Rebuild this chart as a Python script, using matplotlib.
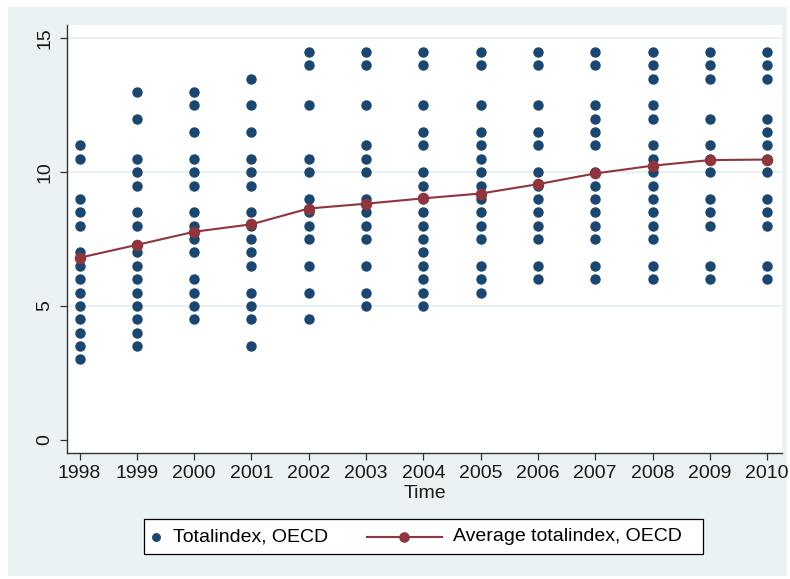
import matplotlib
matplotlib.use("Agg")
import matplotlib.pyplot as plt
from matplotlib.patches import Rectangle
from matplotlib.lines import Line2D
from matplotlib.offsetbox import AnchoredOffsetbox, DrawingArea, HPacker, TextArea

plt.rcParams['font.family'] = ['Liberation Sans', 'DejaVu Sans']

years = [1998, 1999, 2000, 2001, 2002, 2003, 2004, 2005, 2006, 2007, 2008, 2009, 2010]

# distinct country scores per year
idx_1998 = [11, 10.5, 9, 8.5, 8, 7, 6.5, 6, 5.5, 5, 4.5, 4, 3.5, 3]
idx_1999 = [13, 12, 10.5, 10, 9.5, 8.5, 8, 7, 6.5, 6, 5.5, 5, 4.5, 4, 3.5]
idx_2000 = [13, 12.5, 11.5, 10.5, 10, 9.5, 8.5, 8, 7.5, 7, 6, 5.5, 5, 4.5]
idx_2001 = [13.5, 12.5, 11.5, 10.5, 10, 9.5, 8.5, 8, 7.5, 7, 6.5, 5.5, 5, 4.5, 3.5]
idx_2002 = [14.5, 14, 12.5, 10.5, 10, 9, 8.5, 8, 7.5, 6.5, 5.5, 4.5]
idx_2003 = [14.5, 14, 12.5, 11, 10.5, 10, 9, 8.5, 8, 7.5, 6.5, 5.5, 5]
idx_2004 = [14.5, 14, 12.5, 11.5, 11, 10, 9.5, 9, 8.5, 8, 7.5, 7, 6.5, 6, 5.5, 5]
idx_2005 = [14.5, 14, 12.5, 11.5, 11, 10.5, 10, 9.5, 9, 8.5, 8, 7.5, 6.5, 6, 5.5]
idx_2006 = [14.5, 14, 12.5, 11.5, 11, 10, 9.5, 9, 8.5, 8, 7.5, 6.5, 6]
idx_2007 = [14.5, 14, 12.5, 12, 11.5, 11, 10, 9.5, 9, 8.5, 8, 7.5, 6.5, 6]
idx_2008 = [14.5, 14, 13.5, 12.5, 12, 11, 10.5, 10, 9.5, 9, 8.5, 8, 7.5, 6.5, 6]
idx_2009 = [14.5, 14, 13.5, 12, 11, 10.5, 10, 9, 8.5, 8, 6.5, 6]
idx_2010 = [14.5, 14, 13.5, 12, 11.5, 11, 10.5, 10, 9, 8.5, 8, 6.5, 6]

avg_index = [6.80, 7.28, 7.77, 8.05, 8.64, 8.82, 9.02, 9.20, 9.55, 9.95, 10.24, 10.45, 10.47]

yearly = [idx_1998, idx_1999, idx_2000, idx_2001, idx_2002, idx_2003, idx_2004,
          idx_2005, idx_2006, idx_2007, idx_2008, idx_2009, idx_2010]

navy = '#1a476f'
maroon = '#90353b'
bg = '#eaf2f3'
PX = 0.72  # points per pixel at dpi 100

W, H = 790, 579
fig = plt.figure(figsize=(W / 100, H / 100), dpi=100)
fig.patch.set_facecolor('white')
fig.add_artist(Rectangle((8 / W, 3 / H), (787 - 8) / W, (572 - 3) / H,
                         transform=fig.transFigure, facecolor=bg, edgecolor='none', zorder=0))

ax = fig.add_axes([67 / W, 1 - 453 / H, (782 - 67) / W, (453 - 25) / H])
ax.set_facecolor('white')

xs, ys = [], []
for yr, vals in zip(years, yearly):
    xs += [yr] * len(vals)
    ys += vals
ax.plot(xs, ys, linestyle='none', marker='o', markersize=6.5, color=navy, zorder=3)
ax.plot(years, avg_index, color=maroon, linewidth=1.5, marker='o', markersize=7.3, zorder=4)

ax.set_xlim(1997.78, 2010.26)
ax.set_ylim(-0.5, 15.5)
ax.set_xticks(years)
ax.set_yticks([0, 5, 10, 15])
for g in [5, 10, 15]:
    ax.axhline(g, color='#e3edf0', linewidth=1.2, zorder=1)

for s in ['top', 'right']:
    ax.spines[s].set_visible(False)
for s in ['left', 'bottom']:
    ax.spines[s].set_color('#333333')
    ax.spines[s].set_linewidth(1.0)
ax.tick_params(axis='both', length=5, width=0.9, color='#333333', labelsize=14,
               labelcolor='#1a1a1a')
ax.tick_params(axis='x', pad=4)
ax.tick_params(axis='y', pad=5)
for lbl in ax.get_yticklabels():
    lbl.set_rotation(90)
    lbl.set_va('center')

ax.set_xlabel('Time', fontsize=14, labelpad=2, color='#1a1a1a')

# legend built from packed boxes so each key can have its own width
da_dot = DrawingArea(8 * PX, 14 * PX)
da_dot.add_artist(Line2D([2.5 * PX], [7 * PX], linestyle='none', marker='o',
                         markersize=5.4, color=navy))
da_line = DrawingArea(75 * PX, 14 * PX)
da_line.add_artist(Line2D([0, 75 * PX], [7 * PX, 7 * PX], color=maroon, linewidth=1.5))
da_line.add_artist(Line2D([37 * PX], [7 * PX], linestyle='none', marker='o',
                          markersize=6.6, color=maroon))
da_end = DrawingArea(1 * PX, 14 * PX)
txt = dict(fontsize=14, color='black')
entry1 = HPacker(children=[da_dot, TextArea('Totalindex, OECD', textprops=txt)],
                 sep=11.5 * PX, align='center')
entry2 = HPacker(children=[da_line, TextArea('Average totalindex, OECD', textprops=txt), da_end],
                 sep=11 * PX, align='center')
row = HPacker(children=[entry1, entry2], sep=39 * PX, align='center')
box = AnchoredOffsetbox(loc='center', child=row, pad=0.68, borderpad=0,
                        frameon=True, bbox_to_anchor=(423.6 / W, 1 - 536.5 / H),
                        bbox_transform=fig.transFigure)
box.patch.set_edgecolor('black')
box.patch.set_facecolor('white')
box.patch.set_linewidth(0.9)
box.patch.set_boxstyle('square', pad=0)
fig.add_artist(box)

fig.savefig('out.png', dpi=100, facecolor=fig.get_facecolor())
